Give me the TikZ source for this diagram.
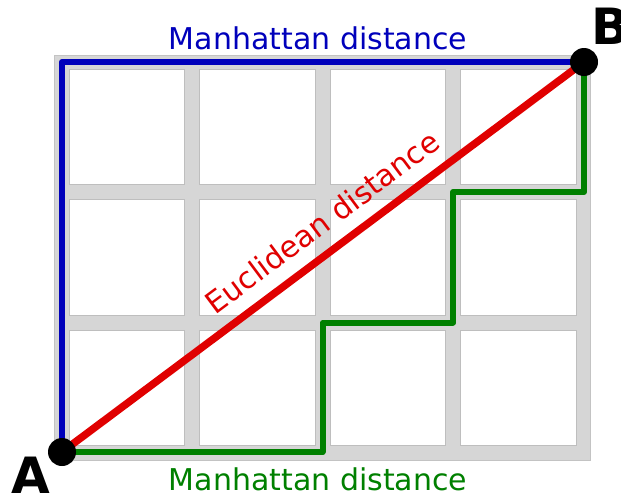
\documentclass[tikz,border=0pt]{standalone}
\usepackage{fontspec}
\setmainfont{DejaVu Sans}
\definecolor{street}{HTML}{D6D6D6}
\definecolor{blockedge}{HTML}{BEBEBE}
\definecolor{mblue}{HTML}{0000BB}
\definecolor{mgreen}{HTML}{008000}
\definecolor{ered}{HTML}{E00000}
\begin{document}
\begin{tikzpicture}[x=1pt,y=-1pt,
  block/.style={fill=white,draw=blockedge,line width=0.8pt},
  pt/.style={circle,fill=black,inner sep=0pt,minimum size=28pt},
  ptlabel/.style={font=\fontsize{50}{50}\selectfont\bfseries,inner sep=0pt},
  distlabel/.style={font=\fontsize{30}{36}\selectfont,inner sep=0pt},
  route/.style={line width=6pt,line join=round}]
\useasboundingbox (0,0) rectangle (621,493);
% city grid
\fill[street,draw=blockedge!80!street,line width=0.6pt] (54,55) rectangle (590,460);
\foreach \i in {0,1,2,3}{
  \foreach \j in {0,1,2}{
    \draw[block] ({69+130.5*\i},{69+130.5*\j}) rectangle ++(115.5,115.5);
  }
}
% points
\coordinate (Ac) at (62,452);
\coordinate (Bc) at (584,62);
\coordinate (g1) at (322.5,452);
\coordinate (g2) at (322.5,322.5);
\coordinate (g3) at (453,322.5);
\coordinate (g4) at (453,192);
\coordinate (g5) at (584,192);
% routes
\draw[route,mblue] (Ac) |- (Bc);
\draw[route,mgreen] (Ac) -- (g1) -- (g2) -- (g3) -- (g4) -- (g5) -- (Bc);
\draw[ered,line width=7.5pt] (Ac) -- (Bc);
\node[pt] (A) at (Ac) {};
\node[pt] (B) at (Bc) {};
\node[ptlabel] (Alab) at (31,475) {A};
\node[ptlabel] (Blab) at (611,26) {B};
% labels
\node[distlabel,text=mblue] (top) at (318,38) {Manhattan distance};
\node[distlabel,text=mgreen] (bot) at (318,479) {Manhattan distance};
\node[distlabel,text=ered,rotate=36.76] (euc) at (322,222) {Euclidean distance};
\end{tikzpicture}
\end{document}
